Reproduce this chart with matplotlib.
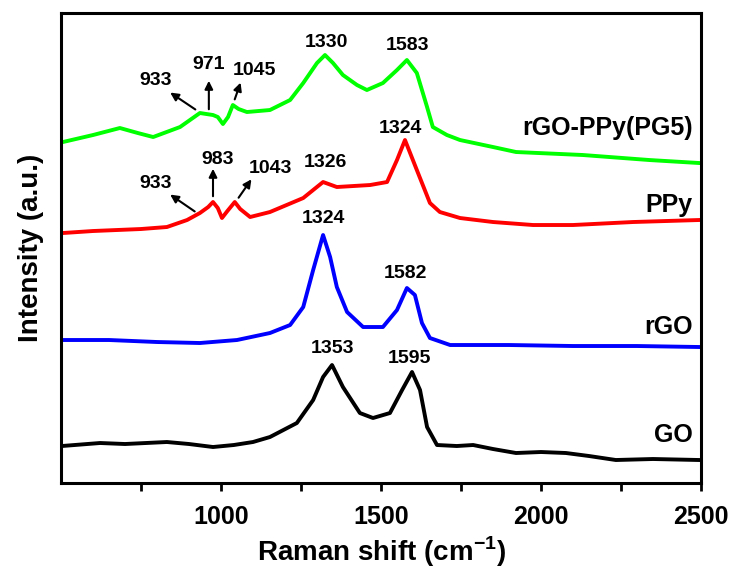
import matplotlib
matplotlib.use("Agg")
import matplotlib.pyplot as plt

plt.rcParams['font.family'] = ['Liberation Sans', 'DejaVu Sans']
plt.rcParams['mathtext.fontset'] = 'custom'
plt.rcParams['mathtext.rm'] = 'Liberation Sans:bold'
plt.rcParams['mathtext.bf'] = 'Liberation Sans:bold'

# Raman shift (cm-1) and intensity (a.u., offset stacked)
go_x = [503, 622, 700, 831, 900, 975, 1040, 1100, 1153, 1237, 1288, 1319, 1347, 1381, 1434, 1475, 1528, 1566, 1597, 1622, 1644, 1675, 1737, 1788, 1850, 1922, 2000, 2078, 2150, 2234, 2350, 2494]
go_y = [37, 40, 39, 41, 39, 36, 38, 41, 46, 60, 83, 106, 118, 96, 70, 65, 70, 93, 111, 93, 56, 38, 37, 38, 34, 30, 31, 30, 27, 23, 24, 23]

rgo_x = [503, 650, 800, 934, 1050, 1153, 1216, 1257, 1288, 1319, 1341, 1362, 1394, 1444, 1506, 1550, 1581, 1606, 1628, 1653, 1716, 1800, 1900, 2100, 2300, 2494]
rgo_y = [143, 143, 141, 140, 143, 150, 158, 176, 213, 248, 226, 196, 171, 156, 156, 173, 195, 188, 160, 145, 138, 138, 138, 137, 137, 136]

ppy_x = [506, 600, 675, 750, 831, 894, 934, 960, 975, 990, 1003, 1020, 1043, 1060, 1091, 1153, 1257, 1319, 1362, 1466, 1519, 1550, 1575, 1612, 1653, 1684, 1747, 1850, 1975, 2100, 2288, 2494]
ppy_y = [250, 252, 253, 254, 256, 263, 270, 276, 281, 275, 265, 272, 281, 274, 266, 271, 285, 301, 296, 298, 301, 323, 343, 313, 280, 271, 265, 261, 258, 258, 261, 263]

pg5_x = [506, 600, 684, 740, 788, 872, 934, 975, 990, 1006, 1022, 1037, 1055, 1081, 1153, 1216, 1257, 1300, 1325, 1350, 1381, 1425, 1456, 1506, 1550, 1581, 1612, 1644, 1662, 1706, 1747, 1850, 1922, 2131, 2338, 2494]
pg5_y = [341, 348, 355, 350, 346, 356, 370, 368, 366, 359, 366, 378, 374, 371, 373, 383, 400, 420, 428, 420, 408, 398, 393, 400, 413, 423, 410, 376, 356, 348, 343, 336, 331, 328, 323, 320]

series_labels = ['rGO-PPy(PG5)', 'PPy', 'rGO', 'GO']
xticks = [1000, 1500, 2000, 2500]

fig = plt.figure(figsize=(7.36, 5.71), dpi=100)
ax = fig.add_axes([0.0829, 0.1541, 0.8695, 0.8231])

lw = 2.8
ax.plot(go_x, go_y, color='black', lw=lw)
ax.plot(rgo_x, rgo_y, color='#0000ff', lw=lw)
ax.plot(ppy_x, ppy_y, color='#ff0000', lw=lw)
ax.plot(pg5_x, pg5_y, color='#00ff00', lw=lw)

ax.set_xlim(500, 2500)
ax.set_ylim(0, 470)
ax.set_xticks(xticks)
ax.set_xticks([750, 1250, 1750, 2250], minor=True)
ax.set_yticks([])
ax.tick_params(axis='x', which='both', direction='out', length=6, width=2, top=False, pad=10)
for lab in ax.get_xticklabels():
    lab.set_fontsize(18)
    lab.set_fontweight('bold')
for s in ax.spines.values():
    s.set_linewidth(2.2)

ax.set_xlabel('Raman shift (cm$^{-1}$)', fontsize=20, fontweight='bold', labelpad=4)
ax.set_ylabel('Intensity (a.u.)', fontsize=20, fontweight='bold', labelpad=12)

# series labels
lab_kw = dict(fontsize=18, fontweight='bold', ha='right', va='center')
ax.text(2475, 355, series_labels[0], **lab_kw)
ax.text(2475, 278, series_labels[1], **lab_kw)
ax.text(2475, 156, series_labels[2], **lab_kw)
ax.text(2475, 48, series_labels[3], **lab_kw)

ann = dict(fontsize=14, fontweight='bold', ha='center', va='center')
# peak labels
ax.text(1330, 441, '1330', **ann)
ax.text(1583, 438, '1583', **ann)
ax.text(1326, 321, '1326', **ann)
ax.text(1560, 355, '1324', **ann)
ax.text(1320, 265, '1324', **ann)
ax.text(1575, 210, '1582', **ann)
ax.text(1350, 135, '1353', **ann)
ax.text(1590, 125, '1595', **ann)

arrow = dict(arrowstyle='-|>', color='black', lw=1.5, mutation_scale=12)
# green arrows
ax.text(795, 403, '933', **ann)
ax.annotate('', xy=(834, 392), xytext=(927, 372), arrowprops=arrow)
ax.text(962, 419, '971', **ann)
ax.annotate('', xy=(962, 405), xytext=(962, 371), arrowprops=arrow)
ax.text(1105, 413, '1045', **ann)
ax.annotate('', xy=(1064, 403), xytext=(1040, 381), arrowprops=arrow)
# red arrows
ax.text(795, 300, '933', **ann)
ax.annotate('', xy=(834, 290), xytext=(925, 270), arrowprops=arrow)
ax.text(990, 324, '983', **ann)
ax.annotate('', xy=(975, 317), xytext=(975, 284), arrowprops=arrow)
ax.text(1155, 315, '1043', **ann)
ax.annotate('', xy=(1100, 306), xytext=(1050, 283), arrowprops=arrow)

fig.savefig('out.png', dpi=100)
